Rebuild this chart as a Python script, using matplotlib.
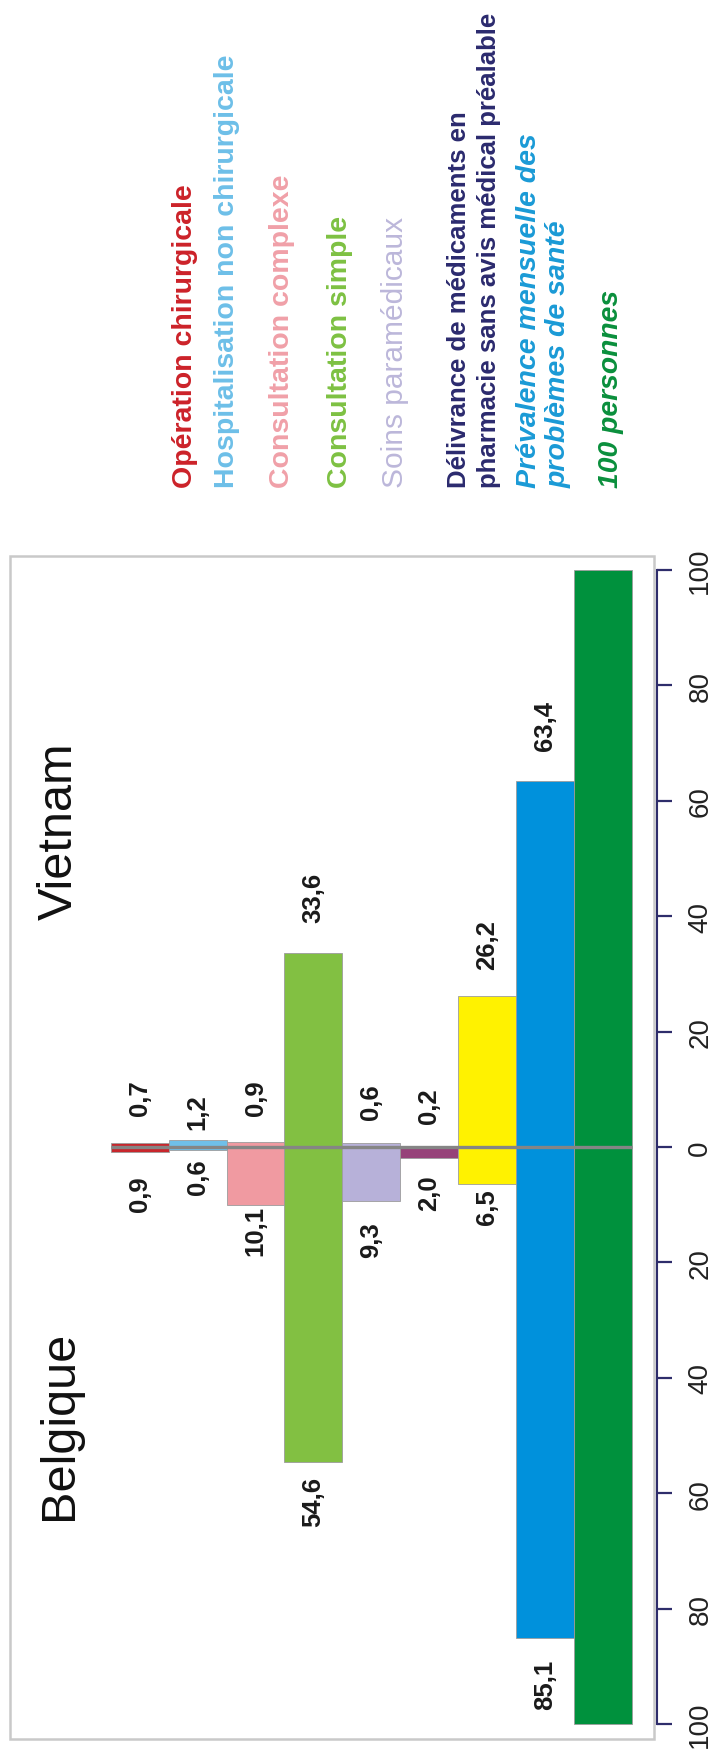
import numpy as np
import matplotlib
matplotlib.use("Agg")
import matplotlib.pyplot as plt
from matplotlib.patches import Rectangle

plt.rcParams['font.family'] = ['Liberation Sans', 'DejaVu Sans']

# données (pour 100 personnes, par mois)
postes = ['Opération chirurgicale', 'Hospitalisation non chirurgicale',
          'Consultation complexe', 'Consultation simple', 'Soins paramédicaux',
          'Délivrance sans avis', 'Automédication',
          'Prévalence mensuelle', '100 personnes']
vietnam = [0.7, 1.2, 0.9, 33.6, 0.6, 0.2, 26.2, 63.4, 100]
belgique = [0.9, 0.6, 10.1, 54.6, 9.3, 2.0, 6.5, 85.1, 100]
couleurs = ['#c8262c', '#6fbfe9', '#f09aa1', '#82c042', '#b7b1d9',
            '#964279', '#fff200', '#0091dc', '#00913d']

# décalage des étiquettes (en unités de l'axe)
pad_vn = [4.8, 1.9, 4.6, 5.4, 4.3, 4.0, 4.6, 5.4, 0]
pad_be = [4.1, 1.4, 0.0, 2.4, 3.5, 2.7, 0.6, 3.6, 0]

legende = ['Opération chirurgicale', 'Hospitalisation non chirurgicale',
           'Consultation complexe', 'Consultation simple', 'Soins paramédicaux',
           'Délivrance de médicaments en\npharmacie sans avis médical préalable',
           'Prévalence mensuelle des\nproblèmes de santé', '100 personnes']
leg_couleurs = ['#cc2229', '#6dbfe8', '#f0a0a8', '#7dc142', '#bcb7da',
                '#2b2a6e', '#1a9ad6', '#0a8f3c']
leg_poids = ['bold', 'bold', 'bold', 'bold', 'normal', 'bold', 'bold', 'bold']
leg_style = ['normal'] * 6 + ['italic', 'italic']
leg_taille = [20.5, 20.5, 20.5, 20.5, 21.5, 18.5, 20.5, 20.3]
leg_interligne = [1.15] * 5 + [1.35, 1.15, 1.15]
leg_x = [185, 227, 282, 340, 395, 474, 544, 611]

W, H = 712, 1758
fig = plt.figure(figsize=(W / 100, H / 100), dpi=100)
ax = fig.add_axes([10 / W, 18 / H, 644 / W, 1183 / H])

x = np.arange(len(vietnam))
ax.bar(x, vietnam, width=1, color=couleurs, edgecolor='#9c9c9c', linewidth=0.6)
ax.bar(x, -np.array(belgique), width=1, color=couleurs, edgecolor='#9c9c9c', linewidth=0.6)
ax.hlines(0, -0.5, 8.5, color='#858585', lw=2.4, zorder=3)

fmt = lambda v: f"{v:.1f}".replace('.', ',')
for i in range(len(vietnam) - 1):
    ax.text(i, vietnam[i] + pad_vn[i], fmt(vietnam[i]), rotation=90,
            ha='center', va='bottom', fontsize=18.5, fontweight='bold', color='#1a1a1a')
    ax.text(i, -(belgique[i] + pad_be[i]), fmt(belgique[i]), rotation=90,
            ha='center', va='top', fontsize=18.5, fontweight='bold', color='#1a1a1a')

ax.text(-1.38, 54.8, 'Vietnam', rotation=90, ha='center', va='center',
        fontsize=35, color='#111111')
ax.text(-1.38, -48.0, 'Belgique', rotation=90, ha='center', va='center',
        fontsize=35, color='#111111')

ax.set_xlim(-2.239, 8.88)
ax.set_ylim(-102.6, 102.4)
ax.set_xticks([])

# axe de droite
navy = '#2e2d6b'
for s in ['left', 'top', 'bottom']:
    ax.spines[s].set_visible(False)
ax.spines['right'].set_position(('outward', 2.2))
ax.spines['right'].set_bounds(-100, 100)
ax.spines['right'].set_color(navy)
ax.spines['right'].set_linewidth(1.5)
ax.yaxis.tick_right()
ticks = np.arange(-100, 101, 20)
ax.set_yticks(ticks)
ax.set_yticklabels([str(abs(t)) for t in ticks])
ax.tick_params(axis='y', direction='out', length=10.8, width=1.6, color=navy,
               pad=11, labelsize=20, labelcolor='#222222', labelrotation=90)
for lab in ax.get_yticklabels():
    lab.set_va('center')

# cadre
ax.add_patch(Rectangle((0, 0), 1, 1, transform=ax.transAxes, fill=False,
                       edgecolor='#c9c9c9', lw=1.8, clip_on=False))

# légende
for txt, c, w, st, fs, ls, xp in zip(legende, leg_couleurs, leg_poids, leg_style,
                                     leg_taille, leg_interligne, leg_x):
    fig.text(xp / W, 1 - 488 / H, txt, rotation=90, ha='center', va='bottom',
             multialignment='left', fontsize=fs, fontweight=w, fontstyle=st,
             color=c, linespacing=ls)

fig.savefig('out.png', dpi=100)
